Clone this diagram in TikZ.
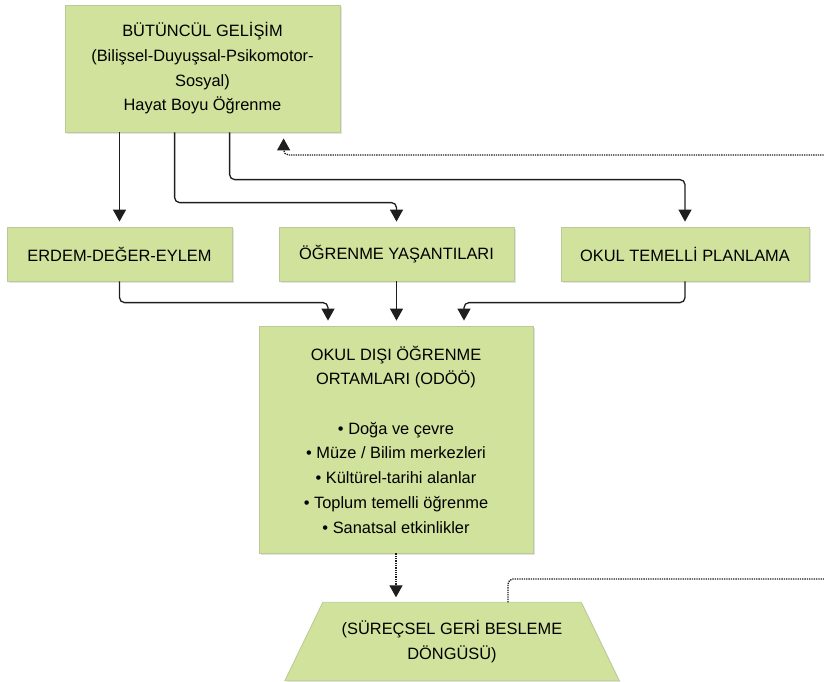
\documentclass[tikz,border=0pt]{standalone}
\usepackage{fontspec}
\setmainfont{Liberation Sans}
\usetikzlibrary{arrows.meta,shadows,calc}
\definecolor{boxfill}{RGB}{208,226,155}
\definecolor{boxline}{RGB}{186,202,150}
\definecolor{lnk}{RGB}{30,30,30}
\pgfdeclarelayer{bg}
\pgfsetlayers{bg,main}
\begin{document}
\begin{tikzpicture}[x=1pt,y=-1pt,
  boxlook/.style={draw=boxline, line width=0.8pt, fill=boxfill,
    drop shadow={shadow xshift=1.5pt, shadow yshift=-1.5pt, opacity=0.22}},
  txt/.style={align=center, inner sep=0pt, font=\fontsize{16.4}{24.7}\selectfont},
  box/.style={boxlook, txt},
  conn/.style={draw=lnk, line width=1.3pt, rounded corners=5pt, -{Triangle[width=13pt,length=12pt]}, shorten >=5pt},
  dconn/.style={conn, densely dotted},
  dline/.style={draw=lnk, line width=1.3pt, rounded corners=5pt, densely dotted}]
\useasboundingbox (0,0) rectangle (824,681);
\node[box, minimum width=275pt, minimum height=127pt] (top) at (202.5,68.5)
  {BÜTÜNCÜL GELİŞİM\\(Bilişsel-Duyuşsal-Psikomotor-\\Sosyal)\\Hayat Boyu Öğrenme};
\node[box, minimum width=225pt, minimum height=54pt] (erdem) at (119.5,254) {ERDEM-DEĞER-EYLEM};
\node[box, minimum width=235pt, minimum height=54pt] (ogr) at (396.5,254) {ÖĞRENME YAŞANTILARI};
\node[box, minimum width=248pt, minimum height=54pt] (okul) at (685,254) {OKUL TEMELLİ PLANLAMA};
\node[box, minimum width=274pt, minimum height=227pt] (odoo) at (396,439.5)
  {OKUL DIŞI ÖĞRENME\\ORTAMLARI (ODÖÖ)\\[24.7pt]• Doğa ve çevre\\• Müze / Bilim merkezleri\\• Kültürel-tarihi alanlar\\• Toplum temelli öğrenme\\• Sanatsal etkinlikler};
\node[txt, minimum width=258pt, minimum height=78pt] (fb) at (452,641.5)
  {(SÜREÇSEL GERİ BESLEME\\DÖNGÜSÜ)};
\begin{pgfonlayer}{bg}
  \path[boxlook] (fb.north west) -- (fb.north east) -- ([xshift=38pt]fb.south east)
    -- ([xshift=-38pt]fb.south west) -- cycle;
\end{pgfonlayer}
\coordinate (e1) at (826,579);
\coordinate (e2) at (826,155);
% top to second row
\draw[conn] (erdem.north |- top.south) -- (erdem.north);
\draw[conn] ([xshift=110pt]top.south west) |- ([yshift=24pt]ogr.north) -- (ogr.north);
\draw[conn] ([xshift=165pt]top.south west) |- ([yshift=47pt]okul.north) -- (okul.north);
% second row to ODOO
\draw[conn] (erdem.south) |- ([xshift=-68pt,yshift=23pt]odoo.north) -- ([xshift=-68pt]odoo.north);
\draw[conn] (ogr.south) -- (ogr.south |- odoo.north);
\draw[conn] (okul.south) |- ([xshift=68pt,yshift=23pt]odoo.north) -- ([xshift=68pt]odoo.north);
% ODOO to feedback
\draw[dconn] (odoo.south) -- (odoo.south |- fb.north);
% feedback loop
\draw[dline] ([xshift=56pt]fb.north) |- (e1);
\draw[dconn, shorten >=6pt] (e2) -| ([xshift=219pt]top.south west);
\end{tikzpicture}
\end{document}
